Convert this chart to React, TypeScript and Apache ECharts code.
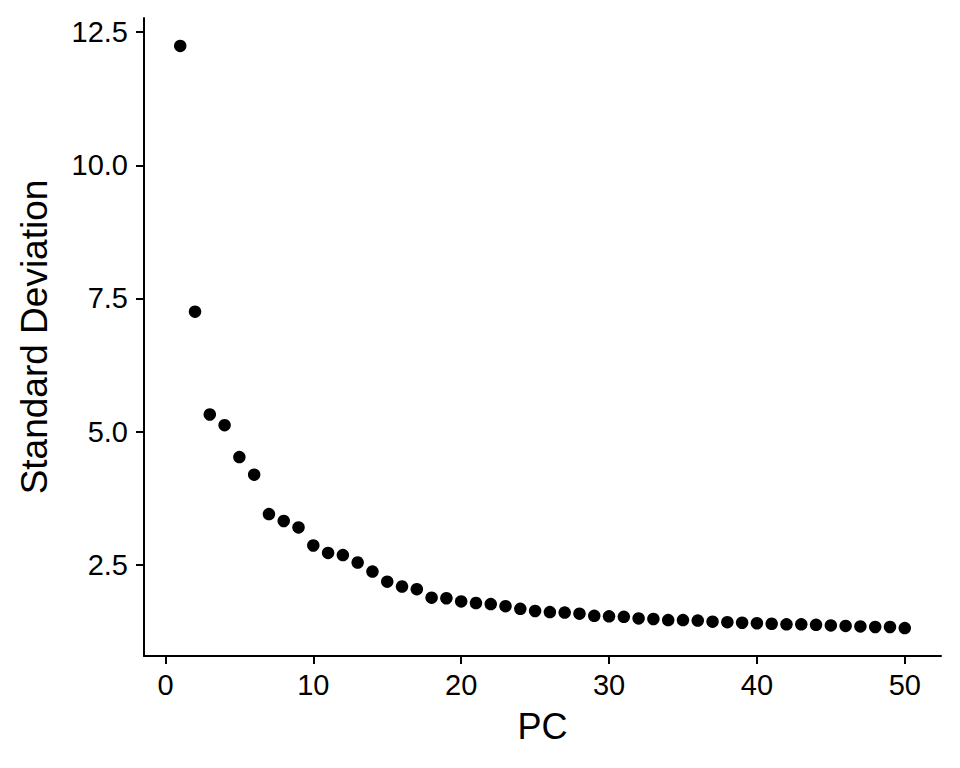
import React, { useEffect, useRef } from "react";
import * as echarts from "echarts";

const pcs = Array.from({ length: 50 }, (_, i) => i + 1);
const stdev = [
  12.24, 7.25, 5.32, 5.12, 4.52, 4.19, 3.45, 3.32, 3.2, 2.86,
  2.72, 2.68, 2.54, 2.37, 2.18, 2.09, 2.04, 1.88, 1.87, 1.81,
  1.78, 1.76, 1.72, 1.67, 1.63, 1.61, 1.6, 1.58, 1.54, 1.53,
  1.52, 1.49, 1.48, 1.46, 1.46, 1.45, 1.43, 1.42, 1.41, 1.4,
  1.39, 1.38, 1.38, 1.37, 1.36, 1.35, 1.34, 1.33, 1.33, 1.31,
];
const xTicks = [0, 10, 20, 30, 40, 50];
const yTicks = [2.5, 5.0, 7.5, 10.0, 12.5];

export default function App() {
  const ref = useRef<HTMLDivElement>(null);
  useEffect(() => {
    if (!ref.current) return;
    const chart = echarts.init(ref.current, null, { renderer: "svg" });
    const font = "Liberation Sans, Arial, Helvetica, sans-serif";
    chart.setOption({
      animation: false,
      backgroundColor: "#ffffff",
      grid: { left: 144, right: 19, top: 18, bottom: 112, containLabel: false },
      xAxis: {
        type: "value",
        min: -1.45,
        max: 52.45,
        name: "PC",
        nameLocation: "middle",
        nameGap: 52,
        nameTextStyle: { fontFamily: font, fontSize: 36, color: "#000" },
        splitLine: { show: false },
        axisLine: { show: true, onZero: false, lineStyle: { color: "#000", width: 2 } },
        axisTick: { show: true, length: 8, lineStyle: { color: "#000", width: 2 }, customValues: xTicks },
        axisLabel: {
          fontFamily: font,
          fontSize: 29,
          color: "#000",
          margin: 14,
          customValues: xTicks,
          formatter: (v: number) => String(v),
        },
      },
      yAxis: {
        type: "value",
        min: 0.785,
        max: 12.765,
        name: "Standard Deviation",
        nameLocation: "middle",
        nameGap: 91,
        nameRotate: 90,
        nameTextStyle: { fontFamily: font, fontSize: 37, color: "#000" },
        splitLine: { show: false },
        axisLine: { show: true, onZero: false, lineStyle: { color: "#000", width: 2 } },
        axisTick: { show: true, length: 8, lineStyle: { color: "#000", width: 2 }, customValues: yTicks },
        axisLabel: {
          fontFamily: font,
          fontSize: 29,
          color: "#000",
          margin: 16,
          customValues: yTicks,
          formatter: (v: number) => v.toFixed(1),
        },
      },
      series: [
        {
          type: "scatter",
          data: pcs.map((p, i) => [p, stdev[i]]),
          symbol: "circle",
          symbolSize: 12.5,
          itemStyle: { color: "#000", opacity: 1 },
        },
      ],
    });
    return () => chart.dispose();
  }, []);
  return <div ref={ref} style={{ width: 960, height: 768, position: "absolute", left: 0, top: 0 }} />;
}
